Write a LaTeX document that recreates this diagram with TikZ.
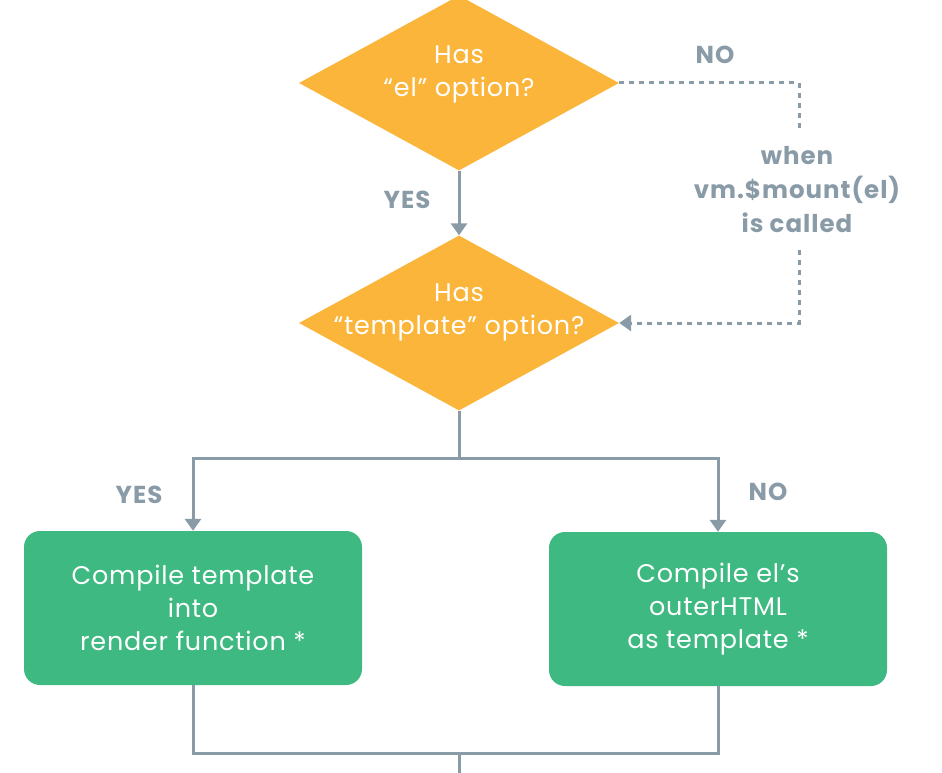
\documentclass[tikz,border=0pt]{standalone}
\usepackage{fontspec}
\setmainfont{Poppins}
\usetikzlibrary{shapes.geometric,arrows.meta}
\definecolor{vgrey}{HTML}{8A9BA8}
\definecolor{vorange}{HTML}{FBB53A}
\definecolor{vgreen}{HTML}{3DB981}
\begin{document}
\begin{tikzpicture}[x=1pt,y=-1pt,
  dia/.style={diamond, fill=vorange, minimum width=320pt, minimum height=175pt, inner sep=0pt},
  wtext/.style={text=white, font=\fontsize{25.5}{33}\selectfont\addfontfeature{LetterSpace=3}, align=center, inner sep=0pt},
  gbox/.style={rounded corners=16pt, fill=vgreen, minimum width=338pt, minimum height=154pt, inner sep=0pt,
     text=white, font=\fontsize{25.5}{33}\selectfont\addfontfeature{LetterSpace=3}, align=center},
  lbl/.style={text=vgrey, font=\bfseries\fontsize{24.5}{34}\selectfont\addfontfeature{LetterSpace=4}, align=center, inner sep=0pt},
  conn/.style={draw=vgrey, line width=3pt},
  arr/.style={conn, -{Triangle[width=16pt,length=12pt]}},
  dotline/.style={draw=vgrey, line width=3pt, dash pattern=on 5pt off 5pt}
]
\useasboundingbox (0,0) rectangle (942,773);
\fill[white] (0,0) rectangle (942,773);

\node[dia] (d1) at (459,83) {};
\node[wtext] (t1) at ([yshift=9pt]d1.center) {Has\\“el” option?};
\node[dia] (d2) at (459,323) {};
\node[wtext] (t2) at ([yshift=11pt]d2.center) {Has\\“template” option?};

\node[gbox] (b1) at (193,608) {Compile template\\into\\render function *};
\node[gbox] (b2) at (718,609) {Compile el’s\\outerHTML\\as template *};

% labels
\node[lbl] (no1) at (715,55) {NO};
\node[lbl] (yes1) at (407,200) {YES};
\node[lbl] (yes2) at (139,495) {YES};
\node[lbl] (no2) at (768,492) {NO};
\node[lbl] (when) at (797,190) {when\\vm.\$mount(el)\\is called};

% connectors
\draw[arr] (d1.south) -- (d2.north);

\coordinate (c1) at (799,83);
\coordinate (c2) at (799,130);
\coordinate (c3) at (799,250);
\coordinate (c4) at (799,323);
\draw[dotline] (d1.east) -- (c1) -- (c2);
\draw[dotline, -{Triangle[width=16pt,length=12pt]}] (c3) -- (c4) -- (d2.east);

\coordinate (j1) at (459,458);
\draw[conn] (d2.south) -- (j1);
\draw[arr] (j1) -| (b1.north);
\draw[arr] (j1) -| (b2.north);

\coordinate (j2) at (459,753);
\coordinate (jend) at (459,775);
\draw[conn] (b1.south) |- (j2);
\draw[conn] (b2.south) |- (j2);
\draw[conn] (j2) -- (jend);
\end{tikzpicture}
\end{document}
